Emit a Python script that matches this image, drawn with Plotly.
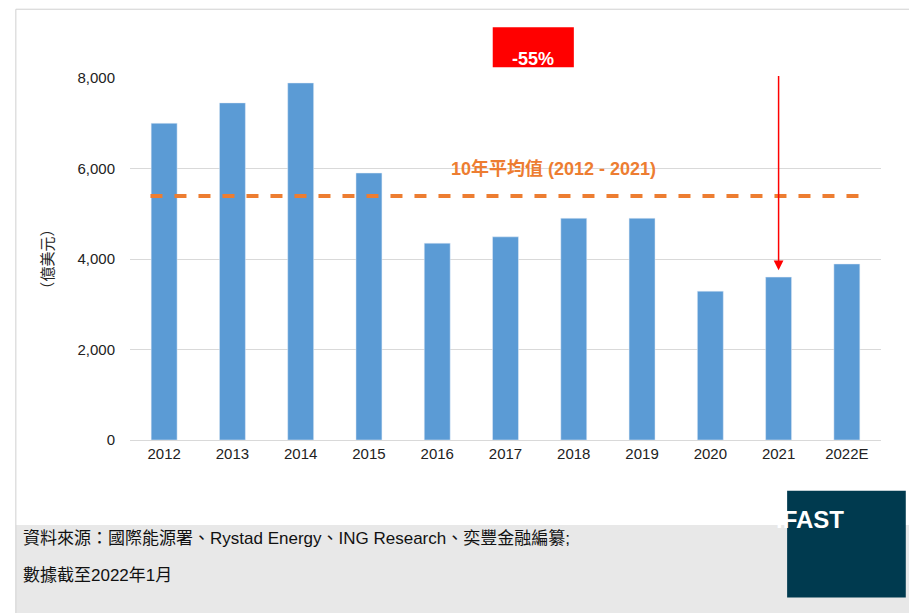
import plotly.graph_objects as go

years = ["2012", "2013", "2014", "2015", "2016", "2017", "2018", "2019", "2020", "2021", "2022E"]
values = [7000, 7450, 7890, 5900, 4350, 4490, 4900, 4900, 3290, 3600, 3890]
avg_value = 5390
y_ticks = [0, 2000, 4000, 6000, 8000]

idx = list(range(len(years)))
i2014 = years.index("2014")
i2021 = years.index("2021")

fig = go.Figure()
fig.add_bar(x=idx, y=values, marker_color="#5b9bd5", width=0.38)
fig.add_scatter(x=[-0.2, len(years) - 0.8], y=[avg_value, avg_value], mode="lines",
                line=dict(color="#ed7d31", width=4, dash="dash"))

fig.update_layout(
    width=917, height=613, showlegend=False,
    paper_bgcolor="white", plot_bgcolor="white",
    margin=dict(l=122, r=44, t=70, b=181),
    font=dict(family="Liberation Sans, Noto Sans CJK TC", size=15, color="#222"),
    xaxis=dict(range=[-0.5, len(years) - 0.5], tickvals=idx, ticktext=years, showline=True,
               linecolor="#d9d9d9", ticks="", showgrid=False, zeroline=False, tickfont=dict(size=15)),
    yaxis=dict(range=[0, 8000], tickvals=y_ticks, tickformat=",", showgrid=True,
               gridcolor="#d9d9d9", zeroline=False, ticks="", ticklabelstandoff=14,
               tickfont=dict(size=15)),
    shapes=[
        dict(type="rect", xref="paper", yref="paper", x0=-0.152, x1=1.045, y0=-0.48, y1=1.19,
             line=dict(color="#d0d0d0", width=1)),
        dict(type="rect", xref="paper", yref="paper", x0=-0.152, x1=1.045, y0=-0.48, y1=-0.235,
             fillcolor="#e8e8e8", line=dict(width=0), layer="below"),
        dict(type="line", x0=i2014, x1=i2021, y0=8080, y1=8080, line=dict(color="#ff0000", width=1.5)),
        dict(type="rect", xref="paper", yref="paper", x0=0.483, x1=0.591, y0=1.03, y1=1.14,
             fillcolor="#ff0000", line=dict(width=0)),
        dict(type="rect", xref="paper", yref="paper", x0=0.875, x1=1.033, y0=-0.435, y1=-0.14,
             fillcolor="#003a4f", line=dict(width=0)),
    ],
    annotations=[
        dict(x=i2021, y=3750, ax=i2021, ay=8080, axref="x", ayref="y", showarrow=True,
             arrowhead=2, arrowsize=1.3, arrowwidth=1.5, arrowcolor="#ff0000", text=""),
        dict(xref="paper", yref="paper", x=0.537, y=1.085, text="<b>-55%</b>", showarrow=False,
             font=dict(color="white", size=18)),
        dict(x=5.7, y=6000, text="<b>10年平均值 (2012 - 2021)</b>", showarrow=False,
             font=dict(color="#ed7d31", size=18)),
        dict(xref="paper", yref="paper", x=-0.125, y=0.5, text="（億美元）", textangle=-90,
             showarrow=False, font=dict(size=15)),
        dict(xref="paper", yref="paper", x=-0.145, y=-0.305, xanchor="left", align="left",
             text="資料來源：國際能源署、Rystad Energy、ING Research、奕豐金融編纂;", showarrow=False,
             font=dict(size=17, color="#111")),
        dict(xref="paper", yref="paper", x=-0.145, y=-0.405, xanchor="left", align="left",
             text="數據截至2022年1月", showarrow=False, font=dict(size=17, color="#111")),
        dict(xref="paper", yref="paper", x=0.954, y=-0.262, text="<b>iFAST</b>", showarrow=False,
             font=dict(color="white", size=24)),
    ],
)

fig.write_html("out.html")
